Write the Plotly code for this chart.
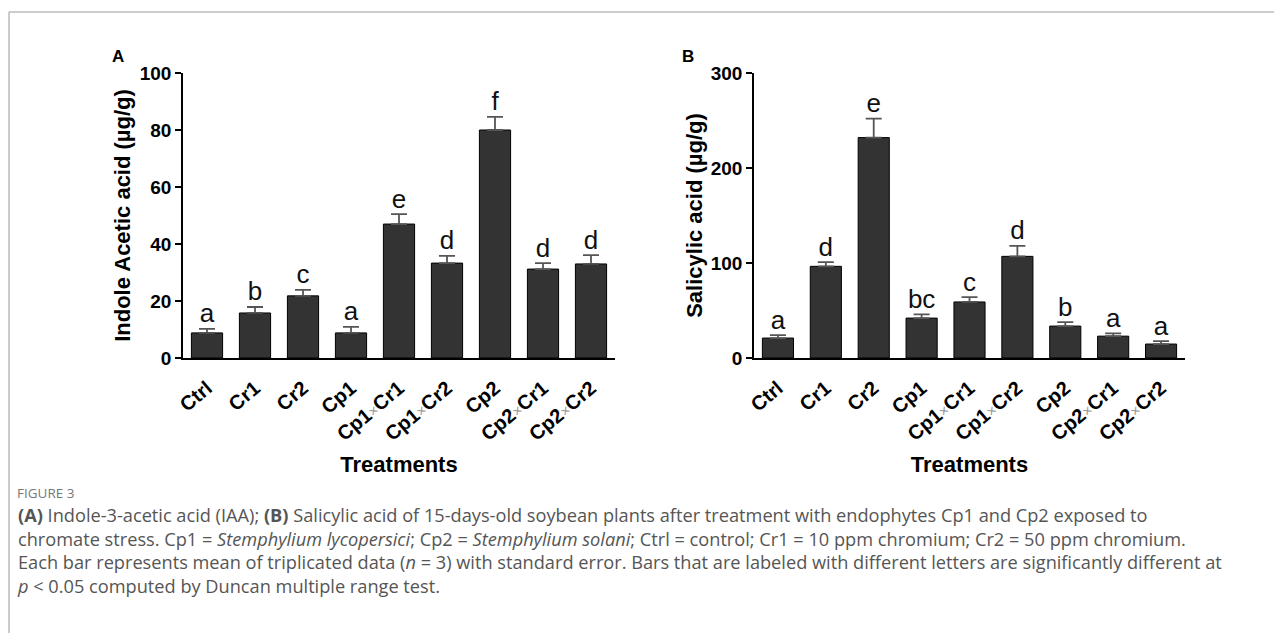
import plotly.graph_objects as go

# ---------------- data ----------------
categories = ["Ctrl", "Cr1", "Cr2", "Cp1", "Cp1×Cr1", "Cp1×Cr2", "Cp2", "Cp2×Cr1", "Cp2×Cr2"]
TIMES = "<span style='color:#9a9a9a;font-weight:normal;font-size:15px'>×</span>"
tick_labels = ["Ctrl", "Cr1", "Cr2", "Cp1",
               "Cp1" + TIMES + "Cr1",
               "Cp1" + TIMES + "Cr2",
               "Cp2",
               "Cp2" + TIMES + "Cr1",
               "Cp2" + TIMES + "Cr2"]

iaa_mean = [8.8, 15.8, 21.8, 8.8, 47.0, 33.3, 80.0, 31.2, 33.0]
iaa_se = [1.4, 2.1, 2.1, 2.1, 3.5, 2.5, 4.6, 2.1, 3.1]
iaa_letters = ["a", "b", "c", "a", "e", "d", "f", "d", "d"]

sa_mean = [21, 96.5, 232, 42, 59, 107, 33.6, 23, 14.7]
sa_se = [3, 4.5, 20, 4, 5, 11, 4.2, 3, 3.1]
sa_letters = ["a", "d", "e", "bc", "c", "d", "b", "a", "a"]

iaa_ticks = [0, 20, 40, 60, 80, 100]
sa_ticks = [0, 100, 200, 300]

caption_head = "FIGURE 3"
caption_lines = [
    "<b>(A)</b> Indole-3-acetic acid (IAA); <b>(B)</b> Salicylic acid of 15-days-old soybean plants after treatment with endophytes Cp1 and Cp2 exposed to",
    "chromate stress. Cp1 = <i>Stemphylium lycopersici</i>; Cp2 = <i>Stemphylium solani</i>; Ctrl = control; Cr1 = 10 ppm chromium; Cr2 = 50 ppm chromium.",
    "Each bar represents mean of triplicated data (<i>n</i> = 3) with standard error. Bars that are labeled with different letters are significantly different at",
    "<i>p</i> < 0.05 computed by Duncan multiple range test.",
]

# ---------------- layout helpers ----------------
W, H = 1282, 633
OFF = 8  # page body margin
def px(x):
    return (x - OFF) / W
def py(y):
    return 1 - (y - OFF) / H

FONT = "Arial, Liberation Sans, sans-serif"
BAR_FILL = "#333333"
ERR_COL = "#555555"

fig = go.Figure()

def add_panel(mean, se, letters, xa, ya):
    fig.add_trace(go.Bar(
        x=categories, y=mean, xaxis=xa, yaxis=ya,
        marker=dict(color=BAR_FILL, line=dict(color="#000000", width=1)),
        error_y=dict(type="data", array=se, arrayminus=[0] * len(se), symmetric=False,
                     color=ERR_COL, thickness=1.8, width=8),
        showlegend=False, hoverinfo="x+y",
    ))
    fig.add_trace(go.Scatter(
        x=categories, y=[m + s for m, s in zip(mean, se)], xaxis=xa, yaxis=ya,
        mode="text", text=letters, textposition="top center",
        textfont=dict(family=FONT, size=26, color="#111111"),
        showlegend=False, hoverinfo="skip",
    ))

add_panel(iaa_mean, iaa_se, iaa_letters, "x", "y")
add_panel(sa_mean, sa_se, sa_letters, "x2", "y2")

ydom = [py(358), py(73)]

common_x = dict(
    type="category", range=[-0.5, 8.5], showline=True, linecolor="#000000", linewidth=1.6,
    ticks="", tickangle=-40, tickmode="array", tickvals=categories, ticktext=tick_labels,
    tickfont=dict(family=FONT, size=20, color="#000000", weight="bold"),
    ticklabelstandoff=9,
    showgrid=False, zeroline=False, fixedrange=True,
)
common_y = dict(
    showline=True, linecolor="#000000", linewidth=1.6, ticks="outside", ticklen=6,
    tickwidth=1.6, tickcolor="#000000", showgrid=False, zeroline=False,
    tickfont=dict(family=FONT, size=19, color="#000000", weight="bold"), fixedrange=True,
)

xA = dict(common_x, domain=[px(183), px(615)], anchor="y",
          title=dict(text="<b>Treatments</b>", font=dict(family=FONT, size=22, color="#000000"), standoff=13))
xB = dict(common_x, domain=[px(754), px(1185)], anchor="y2",
          title=dict(text="<b>Treatments</b>", font=dict(family=FONT, size=22, color="#000000"), standoff=13))
yA = dict(common_y, domain=ydom, anchor="x", range=[0, 100], tickvals=iaa_ticks,
          title=dict(text="<b>Indole Acetic acid (µg/g)</b>", font=dict(family=FONT, size=22, color="#000000"), standoff=3))
yB = dict(common_y, domain=ydom, anchor="x2", range=[0, 300], tickvals=sa_ticks,
          title=dict(text="<b>Salicylic acid (µg/g)</b>", font=dict(family=FONT, size=22, color="#000000"), standoff=2))

annotations = [
    dict(text="<b>A</b>", x=px(118), y=py(57), xref="paper", yref="paper", showarrow=False,
         xanchor="center", yanchor="middle", font=dict(family=FONT, size=17, color="#000000")),
    dict(text="<b>B</b>", x=px(688), y=py(57), xref="paper", yref="paper", showarrow=False,
         xanchor="center", yanchor="middle", font=dict(family=FONT, size=17, color="#000000")),
    dict(text=caption_head, x=px(15), y=py(493), xref="paper", yref="paper", showarrow=False,
         xanchor="left", yanchor="middle", font=dict(family="Open Sans", size=13.5, color="#777777")),
    dict(text="<br>".join(caption_lines), x=px(15), y=py(501), xref="paper", yref="paper",
         showarrow=False, xanchor="left", yanchor="top", align="left",
         font=dict(family="Open Sans", size=18.2, color="#555555")),
]

shapes = [
    dict(type="line", xref="paper", yref="paper", x0=px(9), x1=px(1290), y0=py(12), y1=py(12),
         line=dict(color="#bbbbbb", width=1.5)),
    dict(type="line", xref="paper", yref="paper", x0=px(9), x1=px(9), y0=py(12), y1=py(645),
         line=dict(color="#bbbbbb", width=1.5)),
]

fig.update_layout(
    width=W, height=H, margin=dict(l=0, r=0, t=0, b=0, autoexpand=False),
    paper_bgcolor="#ffffff", plot_bgcolor="#ffffff",
    xaxis=xA, yaxis=yA, xaxis2=xB, yaxis2=yB,
    bargap=0.35, annotations=annotations, shapes=shapes, showlegend=False,
    font=dict(family=FONT),
)

fig.write_html("out.html")
